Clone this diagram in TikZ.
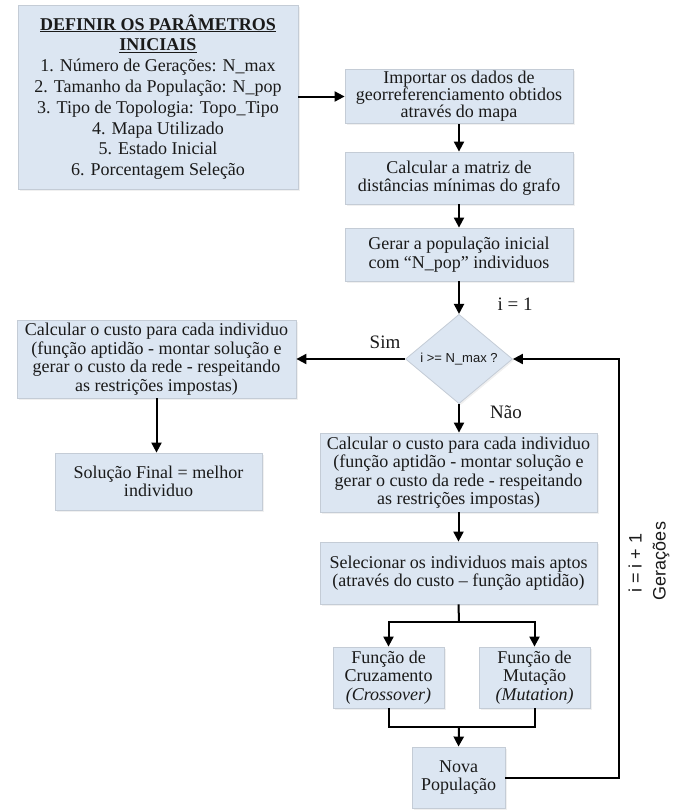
\documentclass[tikz,border=0pt]{standalone}
\usepackage{fontspec}
\setmainfont{Liberation Serif}
\newfontfamily\arialf{Liberation Sans}
\usetikzlibrary{arrows.meta,shapes.geometric,shadows}
\definecolor{boxfill}{HTML}{DCE6F2}
\definecolor{boxline}{HTML}{C4CCD6}
\definecolor{txt}{HTML}{1A1A1A}
\newcommand{\ttl}[1]{\textbf{\underline{#1}}}
\tikzset{
  box/.style={draw=boxline, line width=0.8pt, fill=boxfill, align=center, inner sep=2pt,
     text=txt, font=\fontsize{18}{18.5}\selectfont,
     drop shadow={opacity=0.12, shadow xshift=1.5pt, shadow yshift=-1.5pt}},
  conn/.style={line width=2pt, -{Triangle[length=10pt,width=10pt]}},
  plain/.style={line width=2pt},
  lbl/.style={text=txt, font=\fontsize{19}{20}\selectfont},
  vlbl/.style={text=txt, font=\arialf\fontsize{18}{20}\selectfont, rotate=90}
}
\begin{document}
\begin{tikzpicture}[x=1pt,y=-1pt]
\useasboundingbox (0,0) rectangle (681,811);
\node[box, minimum width=280pt, minimum height=184pt, font=\fontsize{18}{20.8}\selectfont] (par) at (158,97)
  {\ttl{DEFINIR OS PARÂMETROS}\\\ttl{INICIAIS}\\
   1. Número de Gerações: N\_max\\2. Tamanho da População: N\_pop\\
   3. Tipo de Topologia: Topo\_Tipo\\4. Mapa Utilizado\\5. Estado Inicial\\
   6. Porcentagem Seleção};
\node[box, minimum width=228pt, minimum height=53pt, font=\fontsize{18}{17}\selectfont] (imp) at (459,96.5)
  {Importar os dados de\\georreferenciamento obtidos\\através do mapa};
\node[box, minimum width=228pt, minimum height=52pt] (mat) at (459,178)
  {Calcular a matriz de\\distâncias mínimas do grafo};
\node[box, minimum width=228pt, minimum height=53pt] (ger) at (459,254.5)
  {Gerar a população inicial\\com “N\_pop” individuos};
\node[diamond, draw=boxline, line width=0.8pt, fill=boxfill, minimum width=107pt, minimum height=82pt, inner sep=0pt,
  text=txt, font=\arialf\fontsize{13}{14}\selectfont,
  drop shadow={opacity=0.12, shadow xshift=1.5pt, shadow yshift=-1.5pt}] (dia) at (459,359) {i >= N\_max ?};
\node[box, minimum width=279pt, minimum height=78pt] (lft) at (156.5,359)
  {Calcular o custo para cada individuo\\(função aptidão - montar solução e\\gerar o custo da rede - respeitando\\as restrições impostas)};
\node[box, minimum width=207pt, minimum height=57pt] (sol) at (158.5,481.5)
  {Solução Final = melhor\\individuo};
\node[box, minimum width=277pt, minimum height=79pt] (mid) at (458.5,472.5)
  {Calcular o custo para cada individuo\\(função aptidão - montar solução e\\gerar o custo da rede - respeitando\\as restrições impostas)};
\node[box, minimum width=277pt, minimum height=62pt] (sel) at (458.5,573)
  {Selecionar os individuos mais aptos\\(através do custo – função aptidão)};
\node[box, minimum width=111pt, minimum height=61pt] (cro) at (388.5,677.5)
  {Função de\\Cruzamento\\\textit{(Crossover)}};
\node[box, minimum width=111pt, minimum height=61pt] (mut) at (534.5,677.5)
  {Função de\\Mutação\\\textit{(Mutation)}};
\node[box, minimum width=93pt, minimum height=61pt] (nov) at (458.5,777.5)
  {Nova\\População};

\coordinate (split) at (459,622);
\coordinate (merge) at (459,727);
\coordinate (loopb) at (619,777.5);
\coordinate (loopt) at (619,359);

\draw[conn] (par.east |- imp.west) -- (imp.west);
\draw[conn] (imp) -- (mat);
\draw[conn] (mat) -- (ger);
\draw[conn] (ger) -- (dia.north);
\draw[conn] (dia.west) -- (lft.east |- dia.west);
\draw[conn] (lft) -- (lft |- sol.north);
\draw[conn] (dia.south) -- (dia |- mid.north);
\draw[conn] (mid.south -| sel) -- (sel);
\draw[plain] (sel.south) -- (split);
\draw[conn] (split) -| (cro.north);
\draw[conn] (split) -| (mut.north);
\draw[plain] (cro.south) |- (merge);
\draw[plain] (mut.south) |- (merge);
\draw[conn] (merge) -- (nov.north);
\draw[conn] (nov.east) -- (loopb) -- (loopt) -- (dia.east);

\node[lbl] (i1) at (515,304) {i = 1};
\node[lbl] (sim) at (385,342) {Sim};
\node[lbl] (nao) at (506,412) {Não};
\node[vlbl] (inc) at (635,563) {i = i + 1};
\node[vlbl] (gen) at (661,561) {Gerações};
\end{tikzpicture}
\end{document}
